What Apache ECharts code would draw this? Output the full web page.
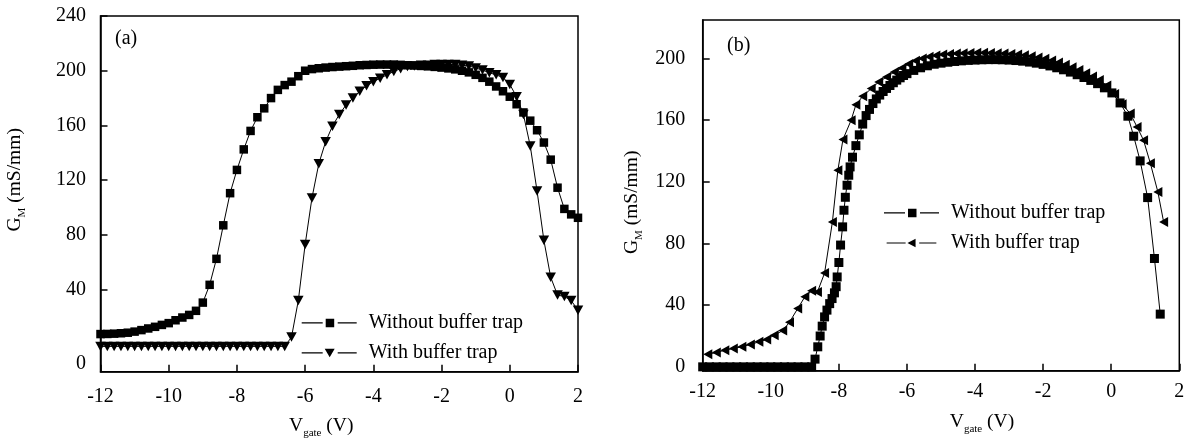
<!DOCTYPE html>
<html>
<head>
<meta charset="utf-8">
<script src="https://cdn.jsdelivr.net/npm/echarts@6/dist/echarts.min.js"></script>
<style>
  body { margin: 0; background: #fff; }
  #chart { width: 1190px; height: 448px; }
</style>
</head>
<body>
<div id="chart"></div>
<script>
// panel (a): gate voltage sweep, 0.2 V step
const xA = [-12, -11.8, -11.6, -11.4, -11.2, -11, -10.8, -10.6, -10.4, -10.2, -10, -9.8, -9.6, -9.4, -9.2, -9, -8.8, -8.6, -8.4, -8.2,
  -8, -7.8, -7.6, -7.4, -7.2, -7, -6.8, -6.6, -6.4, -6.2, -6, -5.8, -5.6, -5.4, -5.2, -5, -4.8, -4.6, -4.4, -4.2,
  -4, -3.8, -3.6, -3.4, -3.2, -3, -2.8, -2.6, -2.4, -2.2, -2, -1.8, -1.6, -1.4, -1.2, -1, -0.8, -0.6, -0.4, -0.2,
  0, 0.2, 0.4, 0.6, 0.8, 1, 1.2, 1.4, 1.6, 1.8, 2];
const withoutA = [7.5, 7.6, 7.8, 8.1, 8.5, 9.3, 10.4, 11.6, 12.8, 14.2, 15.5, 17.6, 19.6, 21.5, 24.5, 30.5, 43.5, 62.5, 87, 110.5,
  127.5, 142.5, 156, 166, 172.5, 180, 186, 189.5, 192, 196, 200, 201.2, 201.8, 202.3, 202.7, 203, 203.3, 203.6, 204, 204.2,
  204.4, 204.5, 204.5, 204.5, 204.3, 204, 203.8, 203.5, 203.2, 202.8, 202.3, 201.7, 201, 200, 198.8, 197, 194.8, 192, 188.5, 185,
  181, 175.5, 169.5, 163.5, 156.5, 147.5, 135, 114.5, 99, 95, 92.5];
const withA = [-1.5, -1.5, -1.5, -1.5, -1.5, -1.5, -1.5, -1.5, -1.5, -1.5, -1.5, -1.5, -1.5, -1.5, -1.5, -1.5, -1.5, -1.5, -1.5, -1.5,
  -1.5, -1.5, -1.5, -1.5, -1.5, -1.5, -1.5, -1.5, 5.3, 32, 73, 107, 132, 148, 159.5, 168, 175, 180, 185, 189,
  192, 194.5, 197, 199.5, 201.5, 203, 203.5, 204, 204, 204.5, 204.5, 204.5, 204.5, 204, 203.5, 202, 200.5, 198.5, 197, 195,
  190, 181, 168, 145, 112, 76, 49, 36, 35, 32, 25];

// panel (b)
const xWithoutB = [-12, -11.8, -11.6, -11.4, -11.2, -11, -10.8, -10.6, -10.4, -10.2, -10, -9.8, -9.6, -9.4, -9.2, -9, -8.8,
  -8.7, -8.62, -8.55, -8.49, -8.42, -8.35, -8.27, -8.2, -8.13, -8.08, -8.05, -8, -7.95, -7.89, -7.85, -7.81, -7.76, -7.71, -7.67,
  -7.6, -7.5, -7.4, -7.3, -7.2, -7.1, -7, -6.9, -6.8, -6.7, -6.6, -6.5, -6.4, -6.3, -6.2, -6.1, -6,
  -5.8, -5.6, -5.4, -5.2, -5, -4.8, -4.6, -4.4, -4.2, -4, -3.8, -3.6, -3.4, -3.2, -3, -2.8, -2.6, -2.4, -2.2, -2,
  -1.8, -1.6, -1.4, -1.2, -1, -0.8, -0.6, -0.4, -0.2, 0.02, 0.26, 0.49, 0.66, 0.85, 1.07, 1.27, 1.44];
const withoutB = [0, 0, 0, 0, 0, 0, 0, 0, 0, 0, 0, 0, 0, 0, 0, 0, 0,
  5, 13, 20, 26.4, 32.4, 36.8, 41, 44.3, 48, 52, 58.3, 67.7, 79, 90.8, 101.6, 110, 117.8, 124.3, 129.7,
  136, 143.5, 150.5, 157.5, 163, 167, 170.8, 173.8, 176.3, 178.6, 180.6, 182.5, 184.3, 186, 187.5, 189, 190.2,
  192.3, 194, 195.3, 196.3, 197, 197.6, 198.1, 198.5, 198.8, 199, 199.2, 199.3, 199.3, 199.2, 199, 198.7, 198.3, 197.7, 197, 196.2,
  195.2, 194, 192.7, 191.2, 189.5, 187.7, 185.8, 183.7, 181, 177.7, 171.2, 162.6, 149.6, 133.6, 109.8, 70.3, 34.2];
const xWithB = [-11.85, -11.6, -11.35, -11.1, -10.85, -10.6, -10.35, -10.12, -9.9, -9.65, -9.45, -9.21, -9, -8.8, -8.63, -8.42,
  -8.19, -8.03, -7.88, -7.64, -7.5, -7.3, -7.05, -6.83, -6.6, -6.37, -6.15, -5.95, -5.75, -5.55, -5.35, -5.15, -4.95, -4.75,
  -4.55, -4.35, -4.15, -3.95, -3.75, -3.55, -3.35, -3.15, -2.95, -2.75, -2.55, -2.35, -2.15, -1.95, -1.75, -1.55, -1.35,
  -1.15, -0.95, -0.75, -0.55, -0.35, -0.13, 0.1, 0.32, 0.56, 0.76, 0.95, 1.15, 1.37, 1.54];
const withB = [8.2, 9.3, 10.8, 11.9, 13, 14.5, 16.2, 17.8, 20.5, 23.5, 29, 37.8, 45.4, 49.3, 48.6, 60.8,
  94, 127.5, 147.5, 160, 170, 175.5, 180.5, 184.8, 188, 191.3, 193.8, 196.5, 198.6, 200.1, 201.2, 202, 202.6, 203,
  203.3, 203.5, 203.6, 203.7, 203.7, 203.6, 203.5, 203.3, 203, 202.6, 202.1, 201.5, 200.7, 199.8, 198.7, 197.5, 196,
  194.3, 192.5, 190.5, 188.3, 186, 182.5, 177, 170.4, 164.3, 155.6, 147, 132, 113.5, 94];

const yTicksA = [40, 80, 120, 160, 200, 240];
const yZeroA = -14; // in (a) the "0" label is printed near the bottom frame
const yTicksB = [0, 40, 80, 120, 160, 200];

const serif = "'Liberation Serif', 'Times New Roman', serif";
const black = "#000";
const fs = 20;

// legend glyphs: dash, marker, dash
const iconSquare = "path://M0,3.6h21v1.2h-21z M24,0h8.5v8.5h-8.5z M36,3.6h19v1.2h-19z";
const iconDown = "path://M0,3.6h21v1.2h-21z M23,0h10l-5,8.5z M36,3.6h19v1.2h-19z";
const iconLeft = "path://M0,3.6h21v1.2h-21z M23,4.2l9,-4.7v9.4z M36,3.6h19v1.2h-19z";

function pairs(xs, ys) {
  return xs.map((x, i) => [x, ys[i]]);
}

const nameRich = {
  m: { fontFamily: serif, fontSize: 19.5, color: black, lineHeight: 20, verticalAlign: "top" },
  s: { fontFamily: serif, fontSize: 11, color: black, lineHeight: 11, verticalAlign: "top", padding: [12, 0, 0, 0] },
};

function xAxisOf(grid, gap, shift) {
  return {
    gridIndex: grid,
    type: "value",
    min: -12,
    max: 2,
    interval: 2,
    name: "{m|V}{s|gate}{m| (V)}",
    nameLocation: "middle",
    nameGap: gap,
    nameTextStyle: { rich: nameRich, padding: shift },
    axisLine: { onZero: false, lineStyle: { color: black, width: 1.5 } },
    axisTick: { inside: true, length: 7, lineStyle: { color: black, width: 1.5 } },
    axisLabel: { color: black, fontFamily: serif, fontSize: fs, margin: grid === 0 ? 15 : 11 },
    splitLine: { show: false },
  };
}

function yAxisOf(grid, min, max, labels, ticks, gap, shift, margin, fmt) {
  return {
    gridIndex: grid,
    type: "value",
    min: min,
    max: max,
    name: "{m|G}{s|M}{m| (mS/mm)}",
    nameLocation: "middle",
    nameGap: gap,
    nameTextStyle: { rich: nameRich, padding: shift },
    axisLine: { onZero: false, lineStyle: { color: black, width: 1.5 } },
    axisTick: { inside: true, length: 7, customValues: ticks, lineStyle: { color: black, width: 1.5 } },
    axisLabel: { color: black, fontFamily: serif, fontSize: fs, margin: margin, customValues: labels, formatter: fmt },
    splitLine: { show: false },
  };
}

function legendOf(left, top, icons) {
  return {
    left: left,
    top: top,
    orient: "vertical",
    padding: 0,
    itemWidth: 55,
    itemHeight: 8.5,
    itemGap: 10,
    selectedMode: false,
    textStyle: { fontFamily: serif, fontSize: fs, color: black, padding: [0, 0, 0, 7] },
    data: [
      { name: "Without buffer trap", icon: icons[0] },
      { name: "With buffer trap", icon: icons[1] },
    ],
  };
}

function lineOf(name, grid, data, symbol, size) {
  return {
    name: name,
    type: "line",
    xAxisIndex: grid,
    yAxisIndex: grid,
    data: data,
    symbol: symbol,
    symbolSize: size,
    showAllSymbol: true,
    lineStyle: { color: black, width: 1 },
    itemStyle: { color: black },
    emphasis: { disabled: true },
  };
}

const chart = echarts.init(document.getElementById("chart"));
chart.setOption({
  animation: false,
  backgroundColor: "#fff",
  title: [
    { text: "(a)", left: 115, top: 29, padding: 0, textStyle: { fontFamily: serif, fontSize: fs, fontWeight: "normal", color: black } },
    { text: "(b)", left: 727, top: 36, padding: 0, textStyle: { fontFamily: serif, fontSize: fs, fontWeight: "normal", color: black } },
  ],
  grid: [
    { left: 100.5, top: 16, width: 477.5, height: 355.7, show: true, borderColor: black, borderWidth: 1.5 },
    { left: 702.7, top: 20, width: 476.6, height: 350.7, show: true, borderColor: black, borderWidth: 1.5 },
  ],
  xAxis: [xAxisOf(0, 44, [0, 36, 0, 0]), xAxisOf(1, 41, [0, 0, 0, 82])],
  yAxis: [
    yAxisOf(0, -20, 240, [yZeroA].concat(yTicksA), yTicksA, 76, [0, 0, 0, 28], 14.5,
      (v) => (v === yZeroA ? "0" : String(v))),
    yAxisOf(1, -2.5, 225, yTicksB, yTicksB, 61, [0, 14, 0, 0], 17.5, (v) => String(v)),
  ],
  legend: [
    legendOf(301.7, 313, [iconSquare, iconDown]),
    legendOf(884, 203, [iconSquare, iconLeft]),
  ],
  series: [
    lineOf("Without buffer trap", 0, pairs(xA, withoutA), "rect", 8.5),
    lineOf("With buffer trap", 0, pairs(xA, withA), "path://M0,0L10,0L5,9Z", [10.5, 9.5]),
    lineOf("Without buffer trap", 1, pairs(xWithoutB, withoutB), "rect", 9),
    lineOf("With buffer trap", 1, pairs(xWithB, withB), "path://M9,0L9,10L0,5Z", [9, 10]),
  ],
});
</script>
</body>
</html>
